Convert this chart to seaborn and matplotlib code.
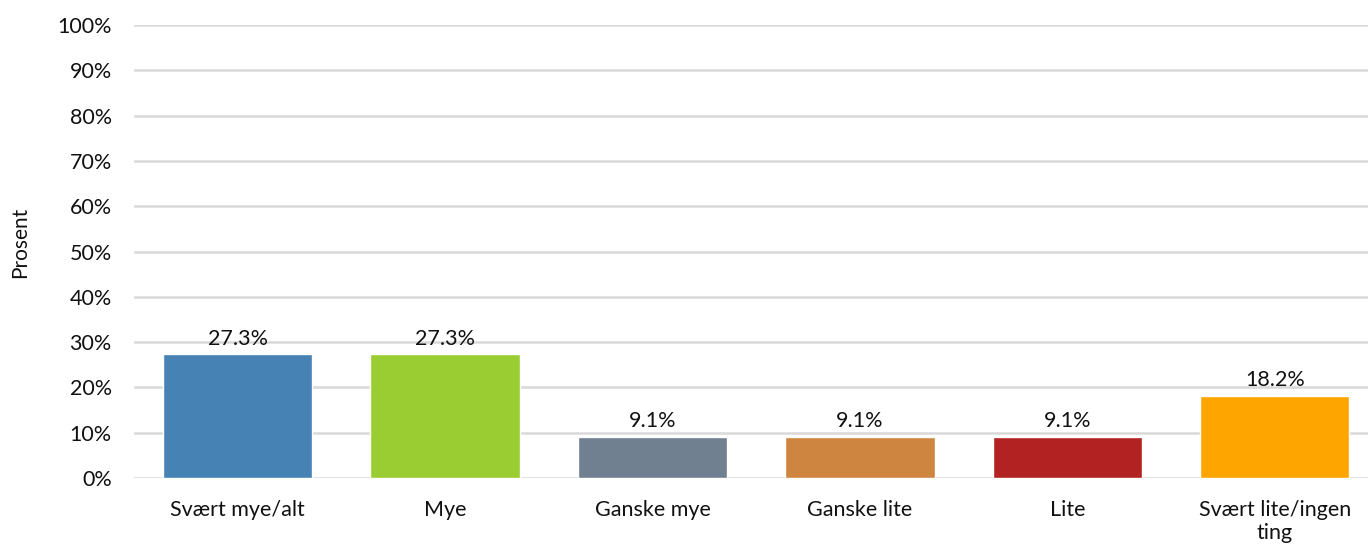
import matplotlib
matplotlib.use("Agg")
import matplotlib.pyplot as plt
import seaborn as sns
import pandas as pd
from matplotlib.ticker import PercentFormatter

categories = ["Svært mye/alt", "Mye", "Ganske mye", "Ganske lite", "Lite", "Svært lite/ingen\nting"]
values = [27.3, 27.3, 9.1, 9.1, 9.1, 18.2]
colors = ["#4682B4", "#9ACD32", "#708090", "#CD853F", "#B22222", "#FFA500"]
y_ticks = list(range(0, 101, 10))

sns.set_theme(style="white")
plt.rcParams["font.family"] = ["Lato", "DejaVu Sans"]

df = pd.DataFrame({"kategori": categories, "prosent": values})

fig = plt.figure(figsize=(13.68, 5.51), dpi=100)
ax = fig.add_axes([0.098, 0.1325, 0.902, 0.8221])

sns.barplot(data=df, x="kategori", y="prosent", hue="kategori", palette=colors,
            legend=False, width=0.72, saturation=1, ax=ax)

for p, v in zip(ax.patches, values):
    ax.text(p.get_x() + p.get_width() / 2, v + 1.2, f"{v:.1f}%",
            ha="center", va="bottom", fontsize=15.5, color="#111111")

ax.set_ylim(0, 100)
ax.set_yticks(y_ticks)
ax.yaxis.set_major_formatter(PercentFormatter(decimals=0))
ax.set_axisbelow(True)
ax.yaxis.grid(True, color="#d9d9d9", linewidth=1.8)
for s in ax.spines.values():
    s.set_visible(False)
ax.set_xlabel("")
ax.set_ylabel("")
fig.text(20 / 1368, 0.561, "Prosent", rotation=90, ha="center", va="center",
         fontsize=15, color="#111111")
ax.tick_params(axis="y", labelsize=15.5, pad=16, length=0, colors="#111111")
ax.tick_params(axis="x", labelsize=15.5, pad=16, length=0, colors="#111111")
ax.set_xlim(-0.5, 5.45)

fig.savefig("out.png", dpi=100)
